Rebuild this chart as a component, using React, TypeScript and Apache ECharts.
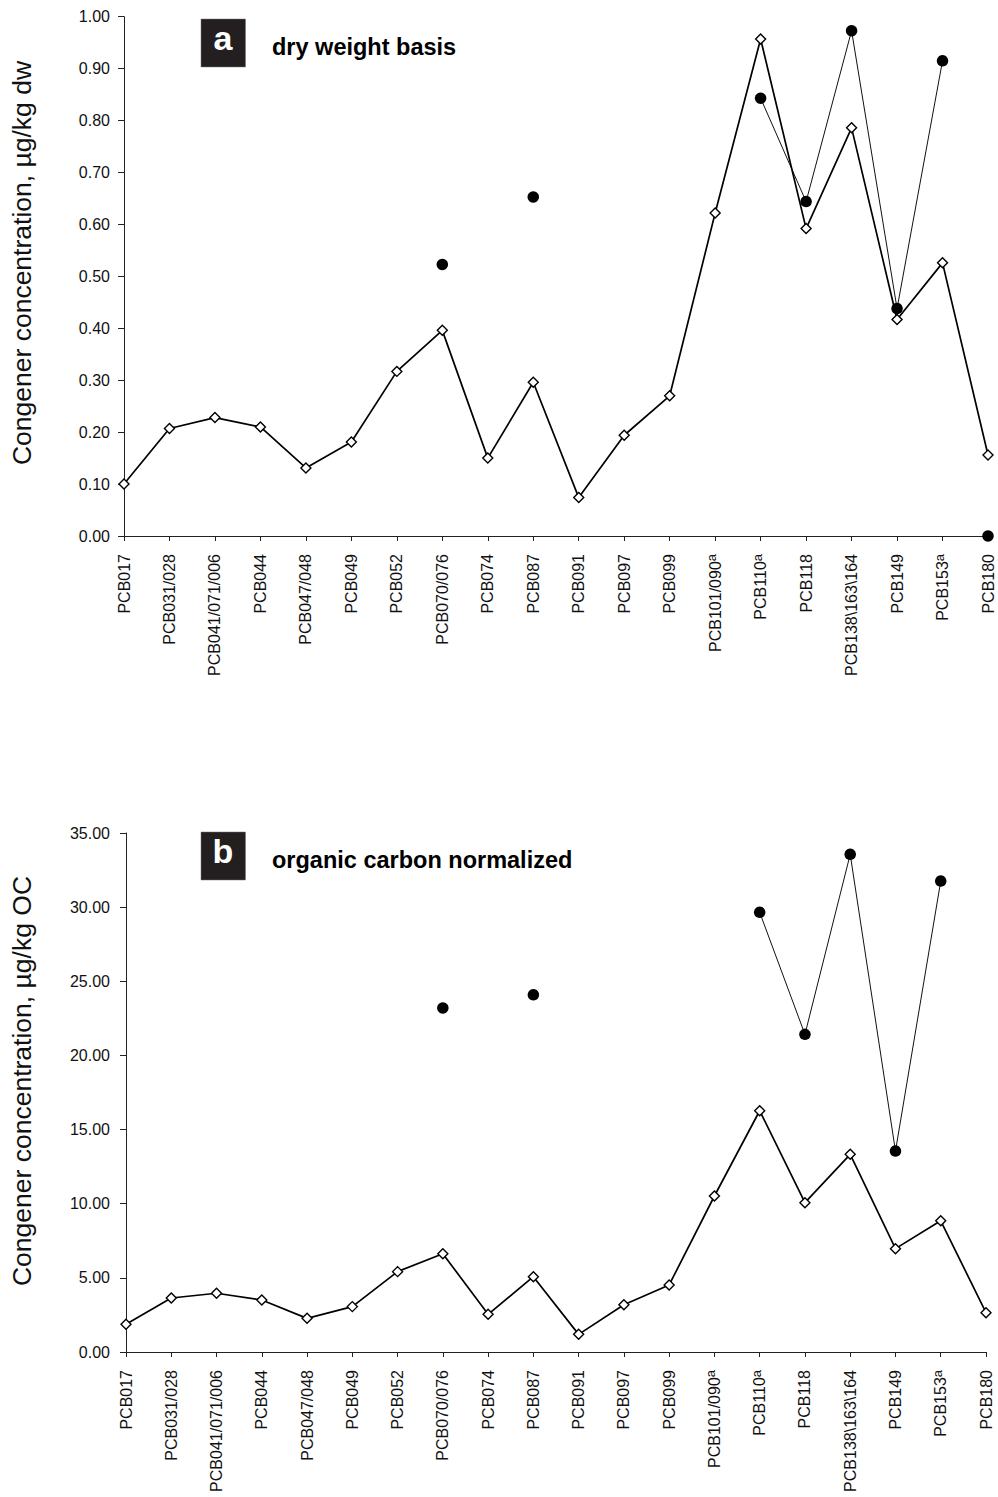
import React, { useEffect, useRef } from "react";
import * as echarts from "echarts";

const categories = [
  "PCB017", "PCB031/028", "PCB041/071/006", "PCB044", "PCB047/048", "PCB049",
  "PCB052", "PCB070/076", "PCB074", "PCB087", "PCB091", "PCB097", "PCB099",
  "PCB101/090", "PCB110", "PCB118", "PCB138\\163\\164", "PCB149", "PCB153", "PCB180",
];
const superscriptA = ["PCB101/090", "PCB110", "PCB153"];

// panel a: dry weight basis (µg/kg dw)
const dwDiamond = [0.10, 0.207, 0.228, 0.21, 0.131, 0.181, 0.317, 0.396, 0.15, 0.296, 0.074, 0.194, 0.27, 0.622, 0.957, 0.592, 0.786, 0.417, 0.526, 0.156];
const dwCircle = [null, null, null, null, null, null, null, 0.523, null, 0.653, null, null, null, null, 0.843, 0.644, 0.973, 0.438, 0.915, 0.0];

// panel b: organic carbon normalized (µg/kg OC)
const ocDiamond = [1.87, 3.64, 3.96, 3.51, 2.27, 3.06, 5.42, 6.63, 2.54, 5.08, 1.19, 3.19, 4.52, 10.52, 16.27, 10.07, 13.33, 6.97, 8.85, 2.65];
const ocCircle = [null, null, null, null, null, null, null, 23.2, null, 24.09, null, null, null, null, 29.65, 21.42, 33.56, 13.55, 31.76, null];

// circles joined by a thin line (from .. to)
const linkedFrom = "PCB110";
const linkedTo = "PCB153";

const FONT = "'Liberation Sans', Arial, Helvetica, sans-serif";

function linkedOnly(values: (number | null)[]) {
  const a = categories.indexOf(linkedFrom);
  const b = categories.indexOf(linkedTo);
  return values.map((v, i) => (i >= a && i <= b ? v : null));
}

function xAxisFor(gridIndex: number) {
  return {
    type: "category",
    gridIndex,
    data: categories,
    boundaryGap: false,
    axisLine: { show: true, lineStyle: { color: "#222", width: 1 } },
    axisTick: { show: true, alignWithLabel: true, length: 5, lineStyle: { color: "#222" } },
    splitLine: { show: false },
    axisLabel: {
      interval: 0,
      rotate: 90,
      margin: 18,
      color: "#111",
      fontSize: 16,
      fontFamily: FONT,
      lineHeight: 20,
      formatter: (v: string) => (superscriptA.includes(v) ? v + "{sup|a}" : v),
      rich: {
        sup: { fontSize: 13, fontFamily: FONT, color: "#111", verticalAlign: "top", lineHeight: 9 },
      },
    },
  };
}

function yAxisFor(gridIndex: number, max: number, interval: number, margin: number) {
  return {
    type: "value",
    gridIndex,
    min: 0,
    max,
    interval,
    axisLine: { show: true, lineStyle: { color: "#222", width: 1 } },
    axisTick: { show: true, length: 6, lineStyle: { color: "#222" } },
    splitLine: { show: false },
    axisLabel: {
      margin,
      color: "#111",
      fontSize: 16,
      fontFamily: FONT,
      formatter: (v: number) => v.toFixed(2),
    },
  };
}

function seriesFor(idx: number, diamond: (number | null)[], circle: (number | null)[]) {
  return [
    {
      type: "line",
      xAxisIndex: idx,
      yAxisIndex: idx,
      data: linkedOnly(circle),
      showSymbol: false,
      symbol: "none",
      lineStyle: { color: "#111", width: 1 },
      z: 2,
    },
    {
      type: "line",
      xAxisIndex: idx,
      yAxisIndex: idx,
      data: diamond,
      symbol: "diamond",
      symbolSize: 10,
      itemStyle: { color: "#fff", borderColor: "#000", borderWidth: 1.4 },
      lineStyle: { color: "#000", width: 1.7 },
      z: 3,
    },
    {
      type: "scatter",
      xAxisIndex: idx,
      yAxisIndex: idx,
      data: circle,
      symbol: "circle",
      symbolSize: 11.5,
      itemStyle: { color: "#000", opacity: 1 },
      z: 4,
    },
  ];
}

function panelGraphics(letter: string, title: string, top: number, nameText: string, nameY: number) {
  return [
    {
      type: "rect",
      shape: { x: 201, y: top, width: 44.5, height: 48 },
      style: { fill: "#231f20", stroke: "#777", lineWidth: 0.5 },
    },
    {
      type: "text",
      x: 223,
      y: top + 19,
      style: {
        text: letter,
        fill: "#fff",
        font: `bold 34px ${FONT}`,
        align: "center",
        verticalAlign: "middle",
      },
    },
    {
      type: "text",
      x: 272,
      y: top + 28,
      style: {
        text: title,
        fill: "#000",
        font: `bold 23.5px ${FONT}`,
        align: "left",
        verticalAlign: "middle",
      },
    },
    {
      type: "text",
      x: 22,
      y: nameY,
      rotation: Math.PI / 2,
      style: {
        text: nameText,
        fill: "#111",
        font: `26.5px ${FONT}`,
        align: "center",
        verticalAlign: "middle",
      },
    },
  ];
}

export default function App() {
  const ref = useRef<HTMLDivElement>(null);
  useEffect(() => {
    if (!ref.current) return;
    const chart = echarts.init(ref.current, null, { renderer: "svg" });
    chart.setOption({
      animation: false,
      backgroundColor: "#fff",
      grid: [
        { left: 124, top: 16.7, width: 867, height: 519.3, containLabel: false },
        { left: 126, top: 833, width: 860, height: 519, containLabel: false },
      ],
      xAxis: [xAxisFor(0), xAxisFor(1)],
      yAxis: [yAxisFor(0, 1, 0.1, 14), yAxisFor(1, 35, 5, 16)],
      series: [...seriesFor(0, dwDiamond, dwCircle), ...seriesFor(1, ocDiamond, ocCircle)],
      graphic: [
        ...panelGraphics("a", "dry weight basis", 19, "Congener concentration, µg/kg dw", 263),
        ...panelGraphics("b", "organic carbon normalized", 832, "Congener concentration, µg/kg OC", 1081),
      ],
    });
    return () => chart.dispose();
  }, []);
  return (
    <div
      ref={ref}
      style={{ position: "absolute", left: 0, top: 0, width: 998, height: 1497, background: "#fff" }}
    />
  );
}
